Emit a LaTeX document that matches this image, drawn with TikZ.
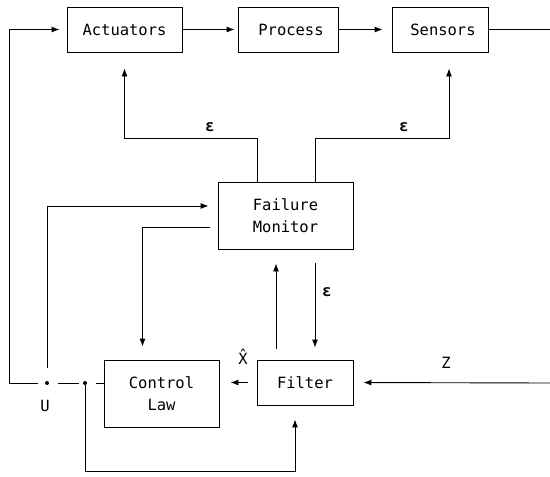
\documentclass[tikz,border=0pt]{standalone}
\usepackage{fontspec}
\setmainfont{DejaVu Sans Mono}
\usetikzlibrary{arrows.meta,calc}
\tikzset{
  blk/.style={draw, line width=0.9pt, inner sep=0pt, align=center,
              font=\fontsize{15.5}{22}\selectfont},
  wire/.style={line width=0.9pt},
  arr/.style={wire, -{Latex[length=8pt,width=6pt]}},
  lbl/.style={inner sep=0pt, font=\fontsize{15.5}{18}\selectfont},
  eps/.style={inner sep=0pt, font=\fontsize{16}{18}\selectfont\bfseries},
  junc/.style={circle, fill, inner sep=0pt, minimum size=4pt}
}
\begin{document}
\begin{tikzpicture}[x=1pt, y=-1pt]
\useasboundingbox (0,0) rectangle (550,477);

% blocks
\node[blk, minimum width=115pt, minimum height=45pt] (act)  at (124.5,29.5) {Actuators};
\node[blk, minimum width=100pt, minimum height=45pt] (proc) at (288,29.5)   {\hspace*{6pt}Process};
\node[blk, minimum width=96pt,  minimum height=45pt] (sens) at (440,29.5)   {\hspace*{6pt}Sensors};
\node[blk, minimum width=135pt, minimum height=67pt] (fm)   at (285.5,215.5) {Failure\\Monitor};
\node[blk, minimum width=115pt, minimum height=67pt] (cl)   at (161.5,393.5) {Control\\Law};
\node[blk, minimum width=96pt,  minimum height=45pt] (filt) at (305,382.5)  {Filter};

% junctions and free ends
\node[junc] (u)  at (47,383) {};
\node[junc] (d2) at (85,383) {};
\coordinate (left) at (9,383);
\coordinate (out) at (550,29.5);
\coordinate (zin) at (550,383);

% forward chain
\draw[arr, shorten >=7pt] (left) |- (act.west);
\draw[arr, shorten >=3pt] (act.east) -- (proc.west);
\draw[arr, shorten >=9pt] (proc.east) -- (sens.west);
\draw[wire] (sens.east) -- (out);

% failure monitor outputs to actuators and sensors
\draw[arr, shorten >=16pt] ([xshift=-28.5pt]fm.north) -- ++(0,-43) -| (act.south);
\draw[arr, shorten >=16pt] ([xshift=29.5pt]fm.north) -- ++(0,-43) -| ([xshift=9pt]sens.south);
\node[eps] at (210,127) {ε};
\node[eps] at (404,127) {ε};

% control signal line
\draw[wire, shorten >=7pt] (left) -- (u);
\draw[wire, shorten <=9pt, shorten >=4pt] (u) -- (d2);
\draw[wire, shorten <=9pt] (d2) -- (d2 -| cl.west);
\node[lbl] at (45,406) {U};

% control signal to failure monitor
\draw[arr, shorten <=13pt, shorten >=9pt] (u) |- ([yshift=9.5pt]fm.west);
% failure monitor to control law
\draw[arr, shorten <=8pt, shorten >=13pt] ([yshift=-11.5pt]fm.west) -| ([xshift=-19pt]cl.north);

% filter and failure monitor exchange
\draw[arr, shorten <=11pt, shorten >=14pt] ([xshift=-29pt]filt.north) -- ([xshift=-29pt]filt.north |- fm.south);
\draw[arr, shorten <=14pt, shorten >=12pt] ([xshift=29.5pt]fm.south) -- ([xshift=29.5pt]fm.south |- filt.north);
\node[eps, anchor=west] at (322,292) {ε};

% filter estimate to control law
\draw[arr, shorten <=9pt, shorten >=11pt] (filt.west) -- (filt.west -| cl.east);
\node[lbl] at (243,357) {\^X};

% measurements into filter
\draw[arr, shorten >=10pt] (zin) -- (filt.east);
\node[lbl] at (446,363) {Z};

% control signal back to filter
\draw[arr, shorten >=14pt] (d2) -- (85,471) -| ([xshift=-10pt]filt.south);
\end{tikzpicture}
\end{document}
